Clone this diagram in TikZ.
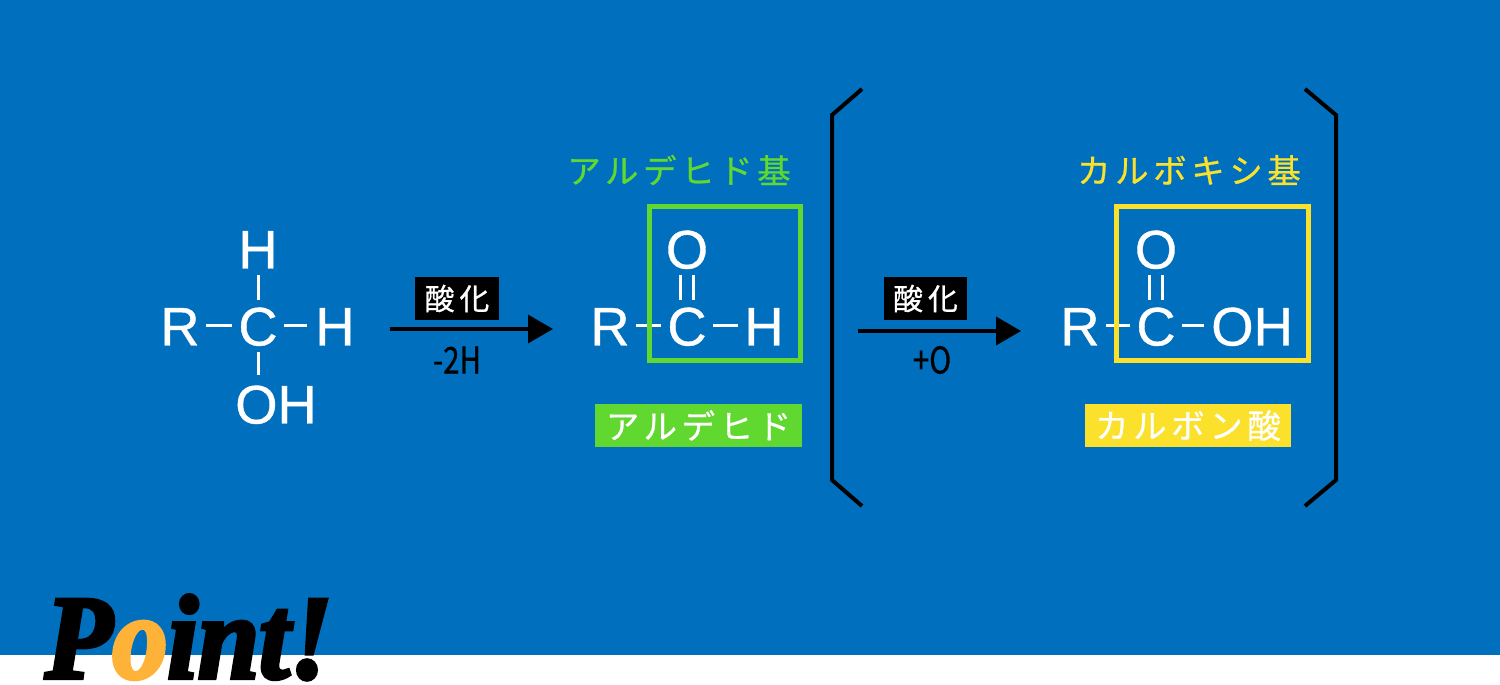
\documentclass[tikz,border=0pt]{standalone}
\usepackage{fontspec}
\setmainfont{Liberation Sans}
\newfontfamily\atomfont[FakeBold=0.7]{Liberation Sans}
\newfontfamily\jpfont[LetterSpace=14, FakeBold=0.7]{Noto Sans CJK JP}
\newfontfamily\jpthin[FakeStretch=0.8, FakeBold=0.7]{Noto Sans CJK JP}
\newfontfamily\pointfont[FakeBold=3.5, FakeStretch=0.92]{Liberation Serif Bold Italic}
\usetikzlibrary{arrows.meta}
\definecolor{bgblue}{HTML}{0070BE}
\definecolor{aldgreen}{HTML}{61D82F}
\definecolor{acidyellow}{HTML}{FBE12B}
\definecolor{pointorange}{HTML}{FFB238}
\tikzstyle{atom} = [text=white, font=\atomfont\fontsize{30.9}{31}\selectfont, inner sep=0.13cm, text height=0.78cm, text depth=0pt]
\tikzstyle{bond} = [white, line width=0.06cm]
\tikzstyle{arrow_2} = [line width=0.075cm, -{Triangle[length=0.5cm, width=0.56cm]}]
\tikzstyle{bracket} = [black, line width=0.08cm]
\tikzstyle{group_box} = [draw, line width=0.095cm, inner sep=0pt]
\tikzstyle{group_label} = [font=\jpfont\fontsize{19}{20}\selectfont, inner sep=0pt]
\tikzstyle{name_tag} = [font=\jpfont\fontsize{19}{20}\selectfont, text=white, inner sep=0pt, minimum height=0.86cm]
\tikzstyle{react_tag} = [fill=black, text=white, font=\jpfont\fontsize{17}{18}\selectfont, inner sep=0pt, minimum width=1.67cm, minimum height=0.86cm]
\tikzstyle{react_note} = [text=black, font=\jpthin\fontsize{21}{22}\selectfont, inner sep=0pt]
\begin{document}
\begin{tikzpicture}[x=0.02cm, y=-0.02cm]
    \useasboundingbox (0,0) rectangle (1500,685);
    \fill[white] (0,0) rectangle (1500,685);
    \fill[bgblue] (0,0) rectangle (1500,655);

    % alcohol
    \node (alc_C) [atom] at (258,326) {C};
    \node (alc_R) [atom] at (180,326) {R};
    \node (alc_H) [atom] at (335,326) {H};
    \node (alc_Htop) [atom] at (258,249) {H};
    \node (alc_OH) [atom] at (276,404) {OH};
    \draw [bond] (alc_R) -- (alc_C);
    \draw [bond, shorten >=0.04cm] (alc_C) -- (alc_H);
    \draw [bond] (alc_Htop) -- (alc_C);
    \draw [bond, shorten >=0.06cm] (alc_C) -- (alc_C |- alc_OH.north);

    % first step
    \coordinate (step1_start) at (390,329);
    \coordinate (step1_end) at (553,329);
    \draw [arrow_2] (step1_start) -- (step1_end);
    \node (step1_tag) [react_tag] at (457,298.5) {酸\hspace{0.1cm}化};
    \node (step1_note) [react_note] at (457,360) {-2H};

    % aldehyde
    \node (ald_C) [atom] at (687,326) {C};
    \node (ald_R) [atom] at (610,326) {R};
    \node (ald_H) [atom] at (764,326) {H};
    \node (ald_O) [atom] at (687,249) {O};
    \draw [bond] (ald_R) -- (ald_C);
    \draw [bond] (ald_C) -- (ald_H);
    \draw [bond] ([xshift=-0.13cm]ald_O.south) -- ([xshift=-0.13cm]ald_C.north);
    \draw [bond] ([xshift=0.13cm]ald_O.south) -- ([xshift=0.13cm]ald_C.north);
    \node (ald_box) [group_box, aldgreen, minimum width=3.02cm, minimum height=3.08cm] at (725,283.5) {};
    \node (ald_group) [group_label, text=aldgreen] at (679,170) {アルデヒド基};
    \node (ald_name) [name_tag, fill=aldgreen, minimum width=4.14cm] at (698.5,425.5) {アルデヒド};

    % second step
    \draw [bracket] (862,89) -- (832,115) -- (832,480) -- (862,506);
    \coordinate (step2_start) at (858,331);
    \coordinate (step2_end) at (1021,331);
    \draw [arrow_2] (step2_start) -- (step2_end);
    \node (step2_tag) [react_tag] at (925.5,298.5) {酸\hspace{0.1cm}化};
    \node (step2_note) [react_note] at (932,360) {+O};

    % carboxylic acid
    \node (acid_C) [atom] at (1156,326) {C};
    \node (acid_R) [atom] at (1080,326) {R};
    \node (acid_OH) [atom] at (1252,326) {OH};
    \node (acid_O) [atom] at (1156,249) {O};
    \draw [bond] (acid_R) -- (acid_C);
    \draw [bond] (acid_C) -- (acid_OH);
    \draw [bond] ([xshift=-0.13cm]acid_O.south) -- ([xshift=-0.13cm]acid_C.north);
    \draw [bond] ([xshift=0.13cm]acid_O.south) -- ([xshift=0.13cm]acid_C.north);
    \node (acid_box) [group_box, acidyellow, minimum width=3.84cm, minimum height=3.08cm] at (1212.5,283.5) {};
    \node (acid_group) [group_label, text=acidyellow] at (1189,170) {カルボキシ基};
    \node (acid_name) [name_tag, fill=acidyellow, minimum width=4.12cm] at (1188,425.5) {カルボン酸};
    \draw [bracket] (1305,89) -- (1336,115) -- (1336,480) -- (1305,506);

    \node (point) [anchor=base west, inner sep=0pt, text=black, font=\pointfont\fontsize{68}{68}\selectfont] at (45,678) {P\textcolor{pointorange}{o}int!};
\end{tikzpicture}
\end{document}
